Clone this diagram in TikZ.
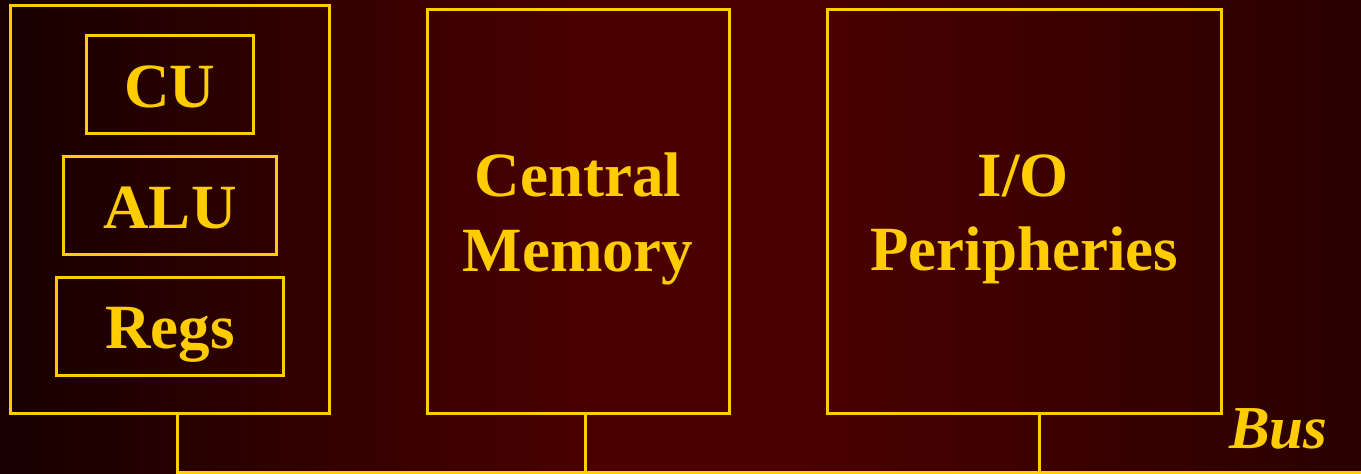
\documentclass[tikz,border=0pt]{standalone}
\usepackage{fontspec}
\setmainfont{Liberation Serif}
\definecolor{gold}{HTML}{FFCC00}
\tikzset{
  blk/.style={draw=gold, line width=3pt, rectangle, inner sep=0pt},
  lbl/.style={text=gold, font=\fontsize{63}{75}\selectfont\bfseries, anchor=base, inner sep=0pt},
  wire/.style={draw=gold, line width=3pt},
}
\begin{document}
\begin{tikzpicture}[x=1pt,y=-1pt]
\useasboundingbox (0,0) rectangle (1361,474);
% background gradient (horizontal)
\foreach \i in {0,...,272}{
  \pgfmathsetmacro\xx{\i*5+2.5}
  \pgfmathtruncatemacro\rr{\xx<600 ? 24+51*(\xx/600) : (\xx<800 ? 75 : 75-33*((\xx-800)/561))}
  \definecolor{bgtmp}{RGB}{\rr,0,0}
  \fill[bgtmp] (\i*5,0) rectangle (\i*5+5.6,474);
}
% CPU
\node[blk, minimum width=319pt, minimum height=408pt] (cpu) at (169.5,209) {};
\node[blk, minimum width=167pt, minimum height=98pt] (cu) at (169.5,84) {};
\node[blk, minimum width=213pt, minimum height=98pt] (alu) at (169.5,205) {};
\node[blk, minimum width=227pt, minimum height=98pt] (regs) at (169.5,326) {};
\node[lbl] (tcu) at (169.5,107) {CU};
\node[lbl] (talu) at (170,228) {ALU};
\node[lbl] (tregs) at (170,348) {Regs};
% Memory
\node[blk, minimum width=302pt, minimum height=404pt] (mem) at (578,211) {};
\node[lbl] (tmem1) at (578,196) {Central};
\node[lbl] (tmem2) at (578,271) {Memory};
% I/O
\node[blk, minimum width=394pt, minimum height=404pt] (io) at (1024,211) {};
\node[lbl] (tio1) at (1023,196) {I/O};
\node[lbl] (tio2) at (1024,270) {Peripheries};
% Bus
\coordinate (busL) at (177,472);
\coordinate (tapM) at (585,472);
\coordinate (tapIO) at (1039,472);
\coordinate (busR) at (1361,472);
\draw[wire] (busL |- cpu.south) -- (busL) -- (busR);
\draw[wire] (tapM |- mem.south) -- (tapM);
\draw[wire] (tapIO |- io.south) -- (tapIO);
\node[text=gold, font=\fontsize{61}{72}\selectfont\bfseries\itshape, anchor=base west, inner sep=0pt] (tbus) at (1229,448) {Bus};
\end{tikzpicture}
\end{document}
